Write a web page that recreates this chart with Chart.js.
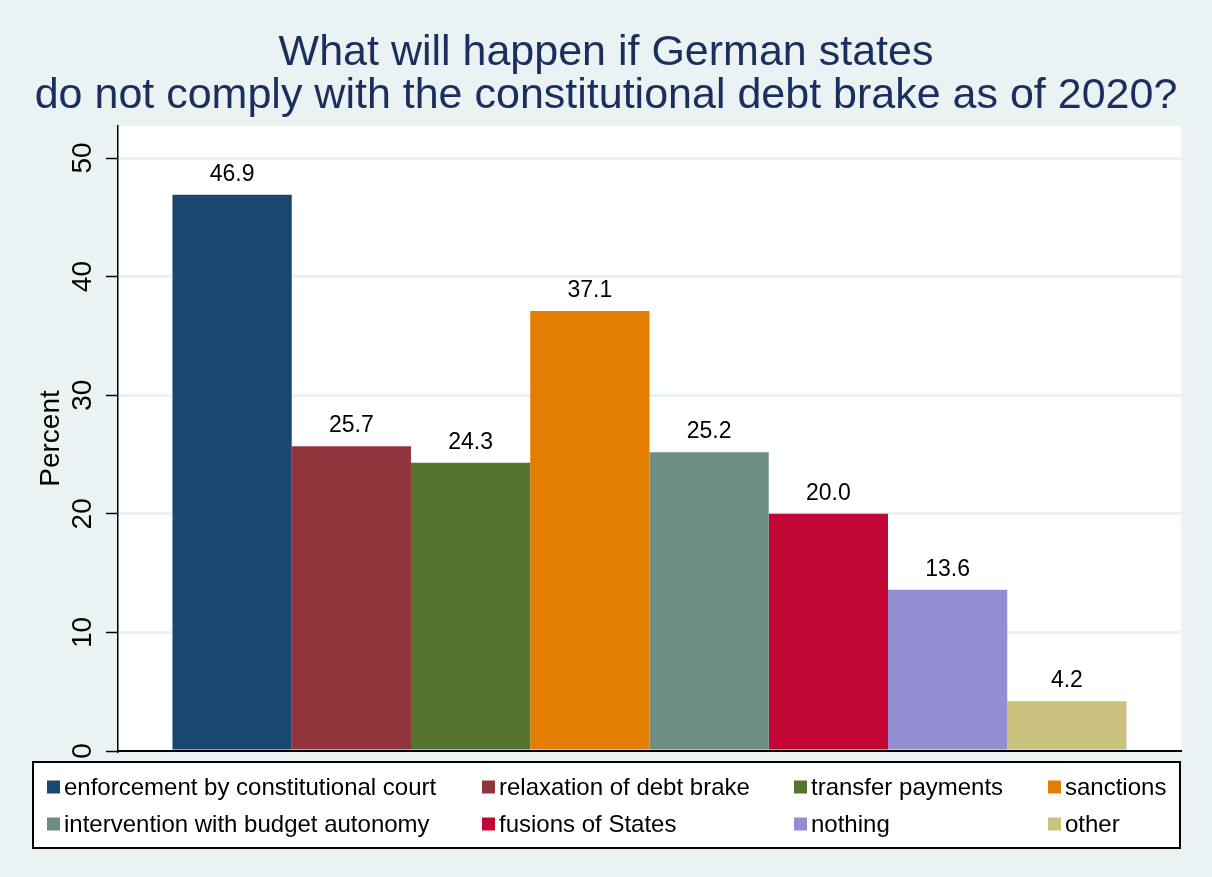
<!DOCTYPE html>
<html>
<head>
<meta charset="utf-8">
<script src="https://cdn.jsdelivr.net/npm/chart.js@4.4.1/dist/chart.umd.min.js"></script>
<style>
  html, body { margin: 0; padding: 0; background: #eaf2f3; }
  #wrap { width: 1212px; height: 877px; }
</style>
</head>
<body>
<div id="wrap"><canvas id="chart1" width="1212" height="877"></canvas></div>
<script>
const categories = [
  "enforcement by constitutional court",
  "relaxation of debt brake",
  "transfer payments",
  "sanctions",
  "intervention with budget autonomy",
  "fusions of States",
  "nothing",
  "other",
];
const percents = [46.9, 25.7, 24.3, 37.1, 25.2, 20.0, 13.6, 4.2];
const yTicks = [0, 10, 20, 30, 40, 50];
const colors = ["#1a476f", "#90353b", "#55752f", "#e37e00", "#6e8e84", "#c10534", "#938dd2", "#cac27e"];

const FONT = "'Liberation Sans', Arial, sans-serif";
const BG = "#eaf2f3";

// stata-ish background: light outer region, white plot region
const backdrop = {
  id: "backdrop",
  beforeDraw(chart) {
    const { ctx, chartArea: a } = chart;
    ctx.save();
    ctx.fillStyle = BG;
    ctx.fillRect(0, 0, chart.width, chart.height);
    ctx.fillStyle = "#ffffff";
    ctx.fillRect(a.left, a.top, a.right - a.left, a.bottom - a.top);
    ctx.restore();
  },
};

// rotated y tick labels
const yLabels = {
  id: "yLabels",
  afterDraw(chart) {
    const { ctx } = chart;
    const y = chart.scales.y;
    ctx.save();
    ctx.font = "28px " + FONT;
    ctx.fillStyle = "#000";
    ctx.textAlign = "center";
    ctx.textBaseline = "middle";
    y.ticks.forEach((t) => {
      const py = y.getPixelForValue(t.value);
      ctx.save();
      ctx.translate(83, py);
      ctx.rotate(-Math.PI / 2);
      ctx.fillText(String(t.value), 0, 0);
      ctx.restore();
    });
    ctx.restore();
  },
};

// value above each bar
const barValues = {
  id: "barValues",
  afterDatasetsDraw(chart) {
    const { ctx } = chart;
    ctx.save();
    ctx.font = "23px " + FONT;
    ctx.fillStyle = "#000";
    ctx.textAlign = "center";
    ctx.textBaseline = "alphabetic";
    chart.data.datasets.forEach((ds, i) => {
      const bar = chart.getDatasetMeta(i).data[0];
      ctx.fillText(ds.data[0].toFixed(1), bar.x, bar.y - 14);
    });
    ctx.restore();
  },
};

// boxed legend in 4 columns like stata
const boxLegend = {
  id: "boxLegend",
  afterDraw(chart) {
    const { ctx } = chart;
    const colX = [47, 482, 794, 1048];
    const rowY = [787, 824];
    ctx.save();
    ctx.fillStyle = "#fff";
    ctx.fillRect(33, 762, 1147, 86);
    ctx.strokeStyle = "#000";
    ctx.lineWidth = 2;
    ctx.strokeRect(33, 762, 1147, 86);
    ctx.font = "24px " + FONT;
    ctx.textBaseline = "middle";
    chart.data.datasets.forEach((ds, i) => {
      const x = colX[i % 4];
      const y = rowY[Math.floor(i / 4)];
      ctx.fillStyle = ds.backgroundColor;
      ctx.fillRect(x, y - 6.5, 13, 13);
      ctx.fillStyle = "#000";
      ctx.fillText(ds.label, x + 17, y + 1.5);
    });
    ctx.restore();
  },
};

const ctx1 = document.getElementById("chart1").getContext("2d");

new Chart(ctx1, {
  type: "bar",
  data: {
    labels: [""],
    datasets: categories.map((c, i) => ({
      label: c,
      data: [percents[i]],
      backgroundColor: colors[i],
      borderWidth: 0,
    })),
  },
  options: {
    responsive: false,
    animation: false,
    categoryPercentage: 0.8975,
    barPercentage: 1.0,
    layout: { padding: { left: 31, right: 31, top: 0, bottom: 126 } },
    plugins: {
      legend: { display: false },
      tooltip: { enabled: false },
      title: {
        display: true,
        text: ["What will happen if German states", "do not comply with the constitutional debt brake as of 2020?"],
        color: "#1b2f5e",
        font: { family: FONT, size: 43, weight: "normal", lineHeight: 1.0 },
        padding: { top: 31.6, bottom: 8.4 },
      },
    },
    scales: {
      x: {
        grid: { display: false },
        ticks: { display: false },
        border: { display: true, color: "#000", width: 2 },
        afterFit(scale) { scale.height = 0; },
      },
      y: {
        min: 0,
        max: 52.7,
        afterBuildTicks(scale) {
          scale.ticks = yTicks.map((v) => ({ value: v }));
        },
        ticks: { color: "rgba(0,0,0,0)", font: { family: FONT, size: 28 } },
        grid: {
          color: BG,
          lineWidth: 3,
          tickColor: "#000",
          tickWidth: 1.5,
          tickLength: 12,
        },
        border: { display: true, color: "#000", width: 1.5 },
        title: {
          display: true,
          text: "Percent",
          color: "#000",
          font: { family: FONT, size: 28 },
          padding: { top: 3.7, bottom: 0 },
        },
        afterFit(scale) { scale.width = 87; },
      },
    },
  },
  plugins: [backdrop, yLabels, barValues, boxLegend],
});
</script>
</body>
</html>
